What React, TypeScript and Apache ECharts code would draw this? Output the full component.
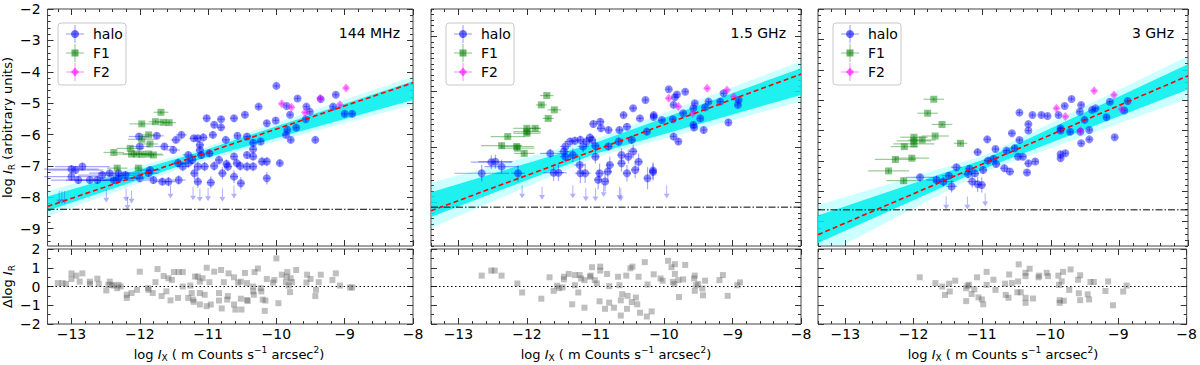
import React, { useEffect, useRef } from "react";
import * as echarts from "echarts";

const FONT = "DejaVu Sans, sans-serif";
const MINUS = "\u2212";

// ---------- ticks ----------
const xMajorTicks = [-13, -12, -11, -10, -9, -8];
const yMajorTicks144 = [-9, -8, -7, -6, -5, -4, -3, -2];
const yMajorTicks15 = [-10, -8, -6, -4];
const yMajorTicks3 = [-9, -8, -7, -6, -5, -4, -3, -2];
const resMajorTicks = [-2, -1, 0, 1, 2];

// ---------- 144 MHz ----------
const halo144 = [
  [-10.0, -4.45, 0.04, 0.08], [-9.69, -4.85, 0.04, 0.08], [-9.13, -4.73, 0.04, 0.08], [-9.35, -4.87, 0.04, 0.08],
  [-9.56, -5.11, 0.04, 0.08], [-10.26, -5.11, 0.04, 0.08], [-9.85, -5.09, 0.04, 0.08], [-9.17, -5.11, 0.04, 0.08],
  [-9.0, -5.34, 0.04, 0.08], [-8.89, -5.34, 0.04, 0.08], [-10.62, -5.48, 0.05, 0.1], [-10.46, -5.37, 0.05, 0.1],
  [-11.02, -5.48, 0.05, 0.1], [-10.81, -5.51, 0.05, 0.1], [-10.91, -5.69, 0.05, 0.1], [-10.81, -5.77, 0.05, 0.1],
  [-10.14, -5.64, 0.04, 0.1], [-10.01, -5.55, 0.04, 0.1], [-9.8, -5.37, 0.04, 0.08], [-9.71, -5.78, 0.04, 0.08],
  [-9.84, -5.85, 0.04, 0.08], [-9.86, -6.01, 0.04, 0.08], [-9.79, -6.17, 0.04, 0.1], [-9.43, -6.17, 0.04, 0.1],
  [-9.57, -5.51, 0.04, 0.08], [-9.51, -5.27, 0.04, 0.08], [-11.75, -6.04, 0.1, 0.1], [-11.39, -6.01, 0.08, 0.1],
  [-11.47, -6.17, 0.08, 0.1], [-11.21, -6.12, 0.06, 0.1], [-11.15, -6.12, 0.06, 0.1], [-11.07, -6.09, 0.06, 0.1],
  [-10.93, -6.01, 0.06, 0.1], [-10.74, -6.17, 0.06, 0.1], [-10.57, -6.04, 0.05, 0.1], [-10.43, -6.06, 0.05, 0.1],
  [-10.34, -6.26, 0.05, 0.12], [-10.23, -6.22, 0.05, 0.1], [-11.12, -6.33, 0.06, 0.12], [-11.12, -6.49, 0.06, 0.12],
  [-11.64, -6.38, 0.15, 0.1], [-11.51, -6.49, 0.1, 0.1], [-12.0, -6.38, 0.15, 0.1], [-12.01, -6.06, 0.15, 0.1],
  [-10.62, -6.7, 0.05, 0.12], [-10.73, -6.94, 0.05, 0.15], [-10.43, -6.65, 0.05, 0.12], [-10.34, -6.47, 0.05, 0.12],
  [-10.34, -6.7, 0.05, 0.12], [-10.21, -6.86, 0.05, 0.15], [-10.14, -6.86, 0.05, 0.15], [-9.95, -6.91, 0.04, 0.1],
  [-10.34, -7.02, 0.05, 0.15], [-10.58, -6.91, 0.05, 0.15], [-10.53, -7.0, 0.05, 0.15], [-10.43, -7.02, 0.05, 0.15],
  [-10.84, -6.81, 0.06, 0.15], [-10.71, -7.02, 0.06, 0.15], [-10.98, -6.6, 0.06, 0.12], [-11.29, -6.65, 0.08, 0.12],
  [-11.1, -6.65, 0.06, 0.12], [-11.44, -6.91, 0.08, 0.15], [-11.29, -6.91, 0.08, 0.15], [-11.15, -7.02, 0.06, 0.15],
  [-11.05, -7.02, 0.06, 0.15], [-11.23, -6.81, 0.06, 0.15], [-11.37, -7.02, 0.08, 0.15], [-11.2, -7.23, 0.06, 0.2],
  [-10.79, -7.23, 0.06, 0.2], [-10.62, -7.34, 0.06, 0.2], [-10.96, -7.53, 0.06, 0.2], [-11.15, -7.5, 0.06, 0.2],
  [-10.52, -7.55, 0.05, 0.2], [-10.14, -7.39, 0.05, 0.2], [-11.43, -7.45, 0.1, 0.15], [-11.58, -7.5, 0.1, 0.15],
  [-11.67, -7.5, 0.12, 0.12], [-11.8, -7.45, 0.15, 0.12], [-11.87, -7.23, 0.15, 0.12], [-12.0, -7.39, 0.2, 0.12],
  [-12.38, -7.45, 0.3, 0.12], [-12.44, -7.23, 0.3, 0.12], [-12.55, -7.29, 0.35, 0.12], [-12.62, -7.45, 0.35, 0.12],
  [-12.73, -7.45, 0.35, 0.12], [-12.84, -7.02, 0.4, 0.12], [-12.94, -7.13, 0.4, 0.12], [-13.0, -7.1, 0.4, 0.12],
  [-13.0, -7.34, 0.4, 0.12], [-12.9, -7.45, 0.4, 0.12], [-12.31, -7.39, 0.3, 0.12], [-12.31, -7.23, 0.3, 0.12],
  [-12.21, -7.29, 0.25, 0.12], [-11.85, -7.13, 0.15, 0.12], [-10.91, -7.0, 0.06, 0.15],
];
const f1_144 = [
  [-11.69, -5.29, 0.11, 0.06], [-11.97, -5.66, 0.18, 0.06], [-11.77, -5.59, 0.1, 0.06], [-11.66, -5.61, 0.1, 0.06],
  [-11.57, -5.62, 0.1, 0.06], [-11.87, -6.01, 0.1, 0.06], [-11.97, -6.15, 0.2, 0.06], [-11.85, -6.3, 0.12, 0.06],
  [-12.38, -6.57, 0.15, 0.06], [-12.14, -6.44, 0.2, 0.06], [-12.12, -6.62, 0.22, 0.06], [-12.05, -6.62, 0.2, 0.06],
  [-11.97, -6.63, 0.2, 0.06], [-11.87, -6.62, 0.2, 0.06], [-11.8, -6.65, 0.15, 0.06], [-12.33, -7.07, 0.15, 0.08],
  [-12.02, -7.07, 0.06, 0.08],
];
const f2_144 = [
  [-9.92, -5.02, 0.03, 0.06], [-9.78, -5.13, 0.03, 0.06], [-9.58, -5.3, 0.03, 0.06],
  [-9.36, -4.84, 0.03, 0.06], [-9.07, -5.05, 0.03, 0.06], [-8.98, -4.52, 0.03, 0.06],
];
const lim144 = [
  [-13.18, -7.8], [-13.14, -7.8], [-13.1, -7.8], [-12.49, -7.75], [-12.2, -7.72], [-12.12, -7.78], [-12.18, -7.98],
  [-11.55, -7.62], [-11.22, -7.68], [-11.12, -7.72], [-11.0, -7.7], [-10.79, -7.72], [-10.62, -7.62],
];
const res144 = [
  [-13.2, 0.18], [-13.13, 0.18], [-13.08, 0.14], [-13.0, 0.7], [-13.0, 0.4], [-12.93, 0.58], [-12.84, 0.7], [-12.88, 0.26],
  [-12.73, 0.26], [-12.73, 0.14], [-12.62, 0.42], [-12.6, 0.14], [-12.49, -0.21], [-12.46, 0.09], [-12.44, 0.26],
  [-12.41, 0.09], [-12.38, 0.05], [-12.33, -0.09], [-12.31, 0.09], [-12.28, 0.0], [-12.19, -0.44], [-12.19, -0.61],
  [-12.12, -0.35], [-12.04, -0.18], [-12.0, 0.79], [-11.88, -0.09], [-11.87, -0.18], [-11.81, -0.35], [-11.77, 0.23],
  [-11.74, 0.93], [-11.68, -0.51], [-11.65, 0.56], [-11.61, -0.26], [-11.58, 0.44], [-11.55, -0.74], [-11.53, 0.35],
  [-11.5, 0.77], [-11.44, -0.61], [-11.43, 0.77], [-11.37, 0.77], [-11.37, 0.0], [-11.29, -0.61], [-11.26, 0.05],
  [-11.24, -0.35], [-11.22, -0.7], [-11.21, -0.82], [-11.19, 0.53], [-11.15, 0.53], [-11.12, -0.96], [-11.12, 0.26],
  [-11.12, -0.35], [-11.08, 0.44], [-11.05, -0.44], [-11.02, 1.0], [-11.02, -1.05], [-10.98, 0.23], [-10.96, -0.96],
  [-10.91, 0.79], [-10.84, -0.35], [-10.81, 0.88], [-10.84, -0.75], [-10.8, -1.17], [-10.77, 0.23], [-10.72, -0.7],
  [-10.71, -0.51], [-10.7, 0.7], [-10.62, 0.49], [-10.62, -0.96], [-10.6, -1.23], [-10.56, 0.21], [-10.52, 0.26],
  [-10.52, -0.65], [-10.51, -1.23], [-10.46, 0.72], [-10.43, -0.72], [-10.43, 0.18], [-10.42, -0.77], [-10.34, 0.0],
  [-10.34, -0.26], [-10.33, -0.44], [-10.32, 0.77], [-10.27, 0.96], [-10.23, -0.09], [-10.22, -0.26], [-10.2, -0.7],
  [-10.17, -1.3], [-10.16, -0.75], [-10.14, 0.4], [-10.05, 0.21], [-10.03, 0.35], [-10.0, 1.5], [-9.97, -0.89],
  [-9.92, 0.63], [-9.86, 0.23], [-9.85, 0.53], [-9.84, 0.77], [-9.82, 0.05], [-9.8, -0.3], [-9.79, 0.44], [-9.77, 0.23],
  [-9.71, 0.88], [-9.56, 0.21], [-9.55, 0.63], [-9.5, 0.4], [-9.43, -0.51], [-9.42, -0.18], [-9.38, 0.23], [-9.35, 0.63],
  [-9.18, 0.35], [-9.13, 0.7], [-9.07, 0.05], [-8.92, -0.05], [-8.89, -0.05],
];
const fit144 = [[-13.35, -8.29], [-8, -4.35]];
const hline144 = -8.38;
const bandX144 = [-13.35, -11.2, -8];
const coreLo144 = [-8.43, -6.84, -4.9];
const coreHi144 = [-7.97, -6.6, -4.3];
const outerLo144 = [-8.6, -6.92, -5.05];
const outerHi144 = [-7.8, -6.52, -4.15];

// ---------- 1.5 GHz ----------
const halo15 = [
  [-9.93, -5.91, 0.04, 0.1], [-9.81, -6.1, 0.04, 0.1], [-9.69, -6.0, 0.04, 0.1], [-10.27, -6.3, 0.04, 0.1],
  [-9.84, -6.2, 0.04, 0.1], [-9.86, -6.48, 0.04, 0.1], [-10.45, -6.6, 0.05, 0.1], [-10.59, -6.85, 0.05, 0.1],
  [-10.35, -6.97, 0.05, 0.1], [-10.15, -6.85, 0.05, 0.1], [-10.15, -6.92, 0.05, 0.1], [-10.03, -7.03, 0.05, 0.1],
  [-9.87, -7.0, 0.04, 0.1], [-9.72, -6.78, 0.04, 0.1], [-9.57, -6.6, 0.04, 0.1], [-9.55, -6.42, 0.04, 0.1],
  [-9.4, -6.57, 0.04, 0.1], [-9.35, -6.36, 0.04, 0.1], [-9.18, -6.36, 0.04, 0.1], [-9.13, -6.06, 0.04, 0.1],
  [-8.91, -6.3, 0.04, 0.1], [-8.92, -6.48, 0.04, 0.1], [-9.42, -7.39, 0.04, 0.12], [-9.57, -7.21, 0.04, 0.12],
  [-9.56, -7.3, 0.04, 0.12], [-9.86, -7.63, 0.04, 0.12], [-9.79, -7.81, 0.04, 0.12], [-9.06, -7.12, 0.04, 0.12],
  [-9.47, -6.97, 0.04, 0.1], [-11.03, -7.17, 0.06, 0.12], [-10.93, -7.09, 0.06, 0.12], [-10.92, -7.33, 0.06, 0.12],
  [-10.81, -7.39, 0.06, 0.12], [-10.65, -7.39, 0.06, 0.12], [-10.54, -7.27, 0.06, 0.12], [-10.47, -7.75, 0.06, 0.15],
  [-10.25, -7.45, 0.05, 0.12], [-10.66, -7.81, 0.06, 0.15], [-10.81, -7.99, 0.06, 0.15], [-11.08, -7.66, 0.06, 0.15],
  [-11.05, -7.75, 0.06, 0.15], [-11.13, -7.81, 0.08, 0.15], [-11.22, -7.75, 0.08, 0.15], [-11.3, -7.78, 0.08, 0.15],
  [-11.37, -7.81, 0.08, 0.15], [-11.44, -7.99, 0.08, 0.2], [-11.46, -8.17, 0.08, 0.2], [-11.44, -8.36, 0.08, 0.2],
  [-11.33, -8.3, 0.08, 0.25], [-11.18, -7.99, 0.08, 0.2], [-11.0, -7.97, 0.06, 0.2], [-11.0, -8.36, 0.06, 0.25],
  [-10.62, -8.3, 0.06, 0.25], [-10.52, -8.36, 0.06, 0.25], [-10.37, -8.54, 0.06, 0.3], [-10.45, -8.17, 0.06, 0.25],
  [-10.62, -8.6, 0.06, 0.3], [-10.79, -8.66, 0.06, 0.3], [-10.94, -8.96, 0.06, 0.35], [-10.82, -8.9, 0.06, 0.35],
  [-10.96, -9.2, 0.06, 0.35], [-10.86, -9.26, 0.06, 0.35], [-10.54, -8.96, 0.06, 0.3], [-10.42, -8.84, 0.06, 0.3],
  [-10.16, -8.86, 0.05, 0.3], [-10.16, -8.92, 0.05, 0.3], [-10.24, -9.14, 0.05, 0.4], [-11.66, -8.24, 0.15, 0.15],
  [-11.61, -8.94, 0.15, 0.3], [-11.54, -8.94, 0.12, 0.3], [-11.23, -8.66, 0.08, 0.3], [-11.22, -8.96, 0.08, 0.35],
  [-11.15, -8.96, 0.08, 0.35], [-12.66, -8.96, 0.4, 0.3], [-12.52, -8.56, 0.3, 0.25], [-12.46, -8.54, 0.25, 0.25],
  [-12.37, -8.72, 0.25, 0.25], [-12.13, -8.96, 0.1, 0.3],
];
const f1_15 = [
  [-11.71, -6.14, 0.1, 0.06], [-11.79, -6.48, 0.08, 0.06], [-11.6, -6.66, 0.1, 0.06], [-11.69, -6.97, 0.08, 0.06],
  [-12.0, -7.33, 0.2, 0.08], [-12.0, -7.45, 0.2, 0.08], [-12.0, -7.51, 0.2, 0.08], [-11.88, -7.33, 0.08, 0.08],
  [-12.28, -7.63, 0.25, 0.08], [-12.37, -7.96, 0.3, 0.1], [-12.15, -7.99, 0.25, 0.1], [-12.14, -8.05, 0.25, 0.1],
  [-12.04, -8.24, 0.15, 0.1],
];
const f2_15 = [
  [-9.93, -6.24, 0.03, 0.06], [-9.79, -6.54, 0.03, 0.06], [-9.37, -5.88, 0.03, 0.06],
  [-9.08, -5.94, 0.03, 0.06], [-8.98, -6.18, 0.03, 0.06], [-9.58, -6.78, 0.03, 0.06],
];
const lim15 = [
  [-12.07, -9.4], [-11.78, -9.45], [-11.33, -9.4], [-11.14, -9.5], [-11.0, -9.5], [-10.88, -9.35],
  [-10.65, -9.45], [-10.63, -9.5], [-9.96, -9.4],
];
const res15 = [
  [-12.66, 0.58], [-12.52, 0.85], [-12.47, 0.85], [-12.37, 0.58], [-12.14, 0.16], [-12.07, -0.32], [-11.79, -0.65],
  [-11.67, 0.49], [-11.61, -0.23], [-11.56, 0.04], [-11.53, -0.09], [-11.48, -0.05], [-11.46, 0.38], [-11.46, 0.52],
  [-11.39, 0.67], [-11.34, -0.95], [-11.3, 0.61], [-11.3, 0.07], [-11.25, -0.32], [-11.23, 0.61], [-11.21, 0.43],
  [-11.16, 0.34], [-11.16, -1.13], [-11.08, 0.52], [-11.07, 0.58], [-11.05, 1.03], [-11.01, 0.34], [-10.98, 0.16],
  [-10.93, 1.06], [-10.93, 0.85], [-10.94, -0.79], [-10.86, -1.19], [-10.83, 0.67], [-10.8, 0.02], [-10.8, -0.86],
  [-10.73, -1.13], [-10.67, 0.52], [-10.65, 0.07], [-10.63, -0.74], [-10.61, -0.41], [-10.63, -1.55], [-10.55, 0.58],
  [-10.54, -1.19], [-10.53, -0.5], [-10.49, 0.97], [-10.47, -0.83], [-10.46, 1.06], [-10.41, -0.59], [-10.39, -0.95],
  [-10.37, 0.52], [-10.35, -1.4], [-10.28, 1.3], [-10.25, -1.6], [-10.24, 0.11], [-10.18, -1.33], [-10.15, 0.65],
  [-10.05, 0.43], [-10.02, 0.31], [-9.94, 1.37], [-9.89, 1.03], [-9.87, 0.25], [-9.85, 0.13], [-9.84, 1.19],
  [-9.84, 0.67], [-9.79, 0.34], [-9.78, -0.56], [-9.72, 0.38], [-9.69, 1.15], [-9.55, 0.58], [-9.56, 0.43],
  [-9.55, -0.23], [-9.53, 0.07], [-9.5, 0.13], [-9.44, -0.11], [-9.43, -0.47], [-9.4, 0.31], [-9.19, 0.34],
  [-9.14, 0.61], [-9.07, -0.5], [-8.93, 0.07], [-8.89, 0.22],
];
const fit15 = [[-13.4, -10.32], [-8, -5.36]];
const hline15 = -10.19;
const bandX15 = [-13.4, -11.0, -8];
const coreLo15 = [-10.55, -8.25, -6.12];
const coreHi15 = [-9.65, -7.85, -5.15];
const outerLo15 = [-10.95, -8.38, -6.36];
const outerHi15 = [-9.3, -7.72, -4.9];

// ---------- 3 GHz ----------
const halo3 = [
  [-9.7, -4.96, 0.04, 0.08], [-9.8, -5.19, 0.04, 0.08], [-9.56, -5.16, 0.04, 0.08], [-9.58, -5.38, 0.04, 0.08],
  [-10.14, -5.49, 0.04, 0.08], [-10.05, -5.52, 0.04, 0.08], [-9.89, -5.49, 0.04, 0.08], [-10.46, -5.41, 0.04, 0.08],
  [-10.27, -5.49, 0.04, 0.08], [-9.4, -5.32, 0.04, 0.08], [-9.35, -5.27, 0.04, 0.08], [-9.14, -5.05, 0.04, 0.08],
  [-8.88, -5.03, 0.04, 0.08], [-8.93, -5.34, 0.04, 0.08], [-9.19, -5.56, 0.04, 0.08], [-9.51, -5.65, 0.04, 0.08],
  [-9.86, -5.93, 0.04, 0.08], [-9.86, -6.0, 0.04, 0.08], [-9.72, -6.04, 0.04, 0.08], [-9.57, -6.04, 0.04, 0.08],
  [-9.56, -6.42, 0.04, 0.08], [-9.44, -5.98, 0.04, 0.08], [-9.44, -6.29, 0.04, 0.08], [-9.07, -6.22, 0.04, 0.08],
  [-10.33, -5.79, 0.04, 0.08], [-10.33, -6.0, 0.04, 0.08], [-10.57, -6.09, 0.05, 0.08], [-10.46, -6.31, 0.05, 0.08],
  [-10.93, -6.29, 0.05, 0.1], [-10.81, -6.61, 0.05, 0.1], [-10.53, -6.58, 0.05, 0.1], [-10.65, -6.66, 0.05, 0.1],
  [-10.48, -6.86, 0.05, 0.1], [-10.41, -6.86, 0.05, 0.1], [-10.33, -7.08, 0.05, 0.1], [-10.23, -7.02, 0.05, 0.1],
  [-10.35, -7.38, 0.05, 0.1], [-9.86, -6.78, 0.04, 0.1], [-9.79, -6.75, 0.04, 0.1], [-9.86, -6.91, 0.04, 0.1],
  [-11.07, -6.71, 0.06, 0.1], [-10.92, -6.99, 0.06, 0.1], [-10.8, -7.1, 0.06, 0.1], [-10.84, -6.93, 0.06, 0.1],
  [-10.68, -7.24, 0.06, 0.12], [-10.6, -7.35, 0.06, 0.12], [-10.99, -7.3, 0.06, 0.12], [-11.11, -7.41, 0.06, 0.12],
  [-11.19, -7.26, 0.06, 0.12], [-11.38, -7.21, 0.08, 0.12], [-11.49, -7.49, 0.1, 0.12], [-11.57, -7.68, 0.15, 0.15],
  [-11.67, -7.63, 0.15, 0.15], [-11.45, -7.84, 0.08, 0.2], [-11.21, -7.43, 0.08, 0.15], [-11.15, -7.68, 0.08, 0.2],
  [-11.07, -7.77, 0.06, 0.25], [-11.01, -7.79, 0.06, 0.25], [-11.91, -7.54, 0.2, 0.12],
];
const f1_3 = [
  [-11.71, -4.97, 0.15, 0.06], [-11.8, -5.43, 0.15, 0.06], [-11.59, -5.8, 0.15, 0.06], [-11.69, -6.18, 0.2, 0.06],
  [-12.0, -6.22, 0.2, 0.06], [-12.0, -6.34, 0.25, 0.06], [-12.0, -6.44, 0.3, 0.06], [-11.88, -6.31, 0.2, 0.06],
  [-12.14, -6.53, 0.2, 0.06], [-11.32, -6.42, 0.1, 0.06], [-12.27, -6.95, 0.3, 0.08], [-12.03, -6.91, 0.25, 0.08],
  [-12.37, -7.33, 0.3, 0.08], [-12.15, -7.65, 0.25, 0.1],
];
const f2_3 = [
  [-9.37, -4.69, 0.03, 0.06], [-9.08, -4.83, 0.03, 0.06], [-9.92, -5.27, 0.03, 0.06],
  [-9.79, -5.54, 0.03, 0.06], [-9.57, -6.0, 0.03, 0.06], [-8.97, -5.3, 0.03, 0.06],
];
const lim3 = [[-11.53, -8.17], [-11.22, -8.17], [-10.96, -8.06]];
const res3 = [
  [-11.91, 0.49], [-11.68, 0.18], [-11.58, 0.0], [-11.54, -0.45], [-11.48, 0.15], [-11.47, -0.27], [-11.39, 0.31],
  [-11.23, -0.09], [-11.23, -0.78], [-11.21, 0.04], [-11.19, 0.09], [-11.15, -0.4], [-11.11, -0.15], [-11.07, 0.49],
  [-11.05, -0.58], [-11.0, -0.69], [-10.98, -0.95], [-10.93, 0.09], [-10.93, 0.78], [-10.83, 0.36], [-10.8, -0.18],
  [-10.66, 0.15], [-10.65, -0.45], [-10.61, -0.6], [-10.6, 0.64], [-10.56, 0.18], [-10.48, -0.31], [-10.47, 0.27],
  [-10.46, 1.18], [-10.43, -0.31], [-10.36, 0.73], [-10.36, 0.55], [-10.36, -0.6], [-10.36, -0.87], [-10.3, 0.95],
  [-10.25, -0.64], [-10.17, 0.49], [-10.16, 0.58], [-10.05, 0.73], [-10.03, 0.55], [-9.88, 0.58], [-9.87, 0.09],
  [-9.86, -0.73], [-9.86, -0.87], [-9.83, 0.27], [-9.81, 0.78], [-9.8, -0.76], [-9.72, -0.18], [-9.7, 0.91],
  [-9.59, 0.36], [-9.58, -0.36], [-9.56, 0.6], [-9.56, -0.73], [-9.45, -0.42], [-9.43, -0.69], [-9.41, 0.24],
  [-9.36, 0.24], [-9.19, -0.24], [-9.15, 0.27], [-9.08, -1.0], [-8.93, -0.27], [-8.88, 0.05],
];
const fit3 = [[-13.4, -9.43], [-8, -4.2]];
const hline3 = -8.61;
const bandX3 = [-13.4, -11.0, -8];
const coreLo3 = [-9.7, -7.27, -4.65];
const coreHi3 = [-8.8, -6.97, -3.82];
const outerLo3 = [-10.2, -7.38, -4.95];
const outerHi3 = [-8.45, -6.85, -3.55];

// ---------- styling ----------
const BLUE = "rgba(0,0,255,0.58)";
const BLUE_ERR = "rgba(0,0,255,0.35)";
const GREEN = "rgba(0,128,0,0.6)";
const GREEN_ERR = "rgba(0,128,0,0.4)";
const MAGENTA = "rgba(255,0,255,0.6)";
const MAGENTA_ERR = "rgba(255,0,255,0.4)";
const GREY = "rgba(95,95,95,0.5)";
const TICK = "#333";

function stepValues(a: number, b: number, step: number) {
  const out: number[] = [];
  for (let i = 0; a + i * step <= b + 1e-9; i++) out.push(+(a + i * step).toFixed(4));
  return out;
}
const fmt = (v: number) => (v < 0 ? MINUS + Math.abs(v) : String(v));

const PANELS = [
  {
    label: "144 MHz", left: 45, width: 368, xMin: -13.35, yMin: -9.55, yMax: -2,
    yMajor: yMajorTicks144, yMinor: stepValues(-9.4, -2, 0.2), showY: true,
    halo: halo144, f1: f1_144, f2: f2_144, lim: lim144, res: res144, fit: fit144, hline: hline144,
    bandX: bandX144, core: [coreLo144, coreHi144], outer: [outerLo144, outerHi144], labelRight: 400, legendX: 58,
  },
  {
    label: "1.5 GHz", left: 431, width: 370, xMin: -13.4, yMin: -11.6, yMax: -3,
    yMajor: yMajorTicks15, yMinor: stepValues(-11.6, -3, 0.2), showY: false,
    halo: halo15, f1: f1_15, f2: f2_15, lim: lim15, res: res15, fit: fit15, hline: hline15,
    bandX: bandX15, core: [coreLo15, coreHi15], outer: [outerLo15, outerHi15], labelRight: 786, legendX: 446,
  },
  {
    label: "3 GHz", left: 818, width: 370, xMin: -13.4, yMin: -9.8, yMax: -2,
    yMajor: yMajorTicks3, yMinor: stepValues(-9.8, -2, 0.2), showY: false,
    halo: halo3, f1: f1_3, f2: f2_3, lim: lim3, res: res3, fit: fit3, hline: hline3,
    bandX: bandX3, core: [coreLo3, coreHi3], outer: [outerLo3, outerHi3], labelRight: 1174, legendX: 833,
  },
];

const labelStyle = { fontSize: 14, fontFamily: FONT, color: "#000" };

const richBase = {
  n: { fontSize: 13, fontFamily: FONT, lineHeight: 17, fill: "#000", color: "#000" },
  i: { fontSize: 13, fontFamily: FONT, fontStyle: "italic", lineHeight: 17, fill: "#000", color: "#000" },
  s: { fontSize: 9, fontFamily: FONT, verticalAlign: "bottom", fill: "#000", color: "#000" },
  p: { fontSize: 9, fontFamily: FONT, verticalAlign: "top", fill: "#000", color: "#000" },
};

function xAxes(g: number, min: number, labels: boolean) {
  const base = {
    gridIndex: g, type: "value", min, max: -8,
    axisLine: { show: false, onZero: false }, splitLine: { show: false },
  };
  const minor = stepValues(-13.4, -8, 0.2);
  return [
    {
      ...base, position: "bottom",
      axisTick: { show: true, inside: true, length: 6, customValues: xMajorTicks, lineStyle: { color: TICK, width: 1 } },
      axisLabel: labels
        ? { show: true, customValues: xMajorTicks, formatter: fmt, margin: 3, ...labelStyle }
        : { show: false },
    },
    { ...base, position: "bottom", axisTick: { show: true, inside: true, length: 3, customValues: minor, lineStyle: { color: TICK } }, axisLabel: { show: false } },
    { ...base, position: "top", axisTick: { show: true, inside: true, length: 6, customValues: xMajorTicks, lineStyle: { color: TICK } }, axisLabel: { show: false } },
    { ...base, position: "top", axisTick: { show: true, inside: true, length: 3, customValues: minor, lineStyle: { color: TICK } }, axisLabel: { show: false } },
  ];
}

function yAxes(g: number, min: number, max: number, major: number[], minor: number[], labels: boolean, title?: string) {
  const base = {
    gridIndex: g, type: "value", min, max,
    axisLine: { show: false, onZero: false }, splitLine: { show: false },
  };
  const nameOpts = title
    ? { name: title, nameLocation: "middle", nameRotate: 90, nameGap: 27, nameTextStyle: { rich: richBase, fontSize: 13, fontFamily: FONT, color: "#000" } }
    : {};
  return [
    {
      ...base, ...nameOpts, position: "left",
      axisTick: { show: true, inside: true, length: 6, customValues: major, lineStyle: { color: TICK } },
      axisLabel: labels ? { show: true, customValues: major, formatter: fmt, margin: 7, ...labelStyle } : { show: false },
    },
    { ...base, position: "left", axisTick: { show: true, inside: true, length: 3, customValues: minor, lineStyle: { color: TICK } }, axisLabel: { show: false } },
    { ...base, position: "right", axisTick: { show: true, inside: true, length: 6, customValues: major, lineStyle: { color: TICK } }, axisLabel: { show: false } },
    { ...base, position: "right", axisTick: { show: true, inside: true, length: 3, customValues: minor, lineStyle: { color: TICK } }, axisLabel: { show: false } },
  ];
}

function errRender(color: string) {
  return (params: any, api: any) => {
    const x = api.value(0), y = api.value(1), xe = api.value(2), ye = api.value(3);
    const a = api.coord([x - xe, y]), b = api.coord([x + xe, y]);
    const c = api.coord([x, y - ye]), d = api.coord([x, y + ye]);
    return {
      type: "group",
      children: [
        { type: "line", shape: { x1: a[0], y1: a[1], x2: b[0], y2: b[1] }, style: { stroke: color, lineWidth: 1.2 } },
        { type: "line", shape: { x1: c[0], y1: c[1], x2: d[0], y2: d[1] }, style: { stroke: color, lineWidth: 1.2 } },
      ],
    };
  };
}

function bandRender(xs: number[], lo: number[], hi: number[], fill: string) {
  return (params: any, api: any) => {
    const pts: number[][] = [];
    xs.forEach((x, i) => pts.push(api.coord([x, hi[i]])));
    for (let i = xs.length - 1; i >= 0; i--) pts.push(api.coord([xs[i], lo[i]]));
    return { type: "polygon", shape: { points: pts }, style: { fill } };
  };
}

const ARROW = "path://M2.5,0 L3.5,0 L3.5,9 L6,9 L3,14 L0,9 L2.5,9 Z";

function legend(bx: number) {
  const cx = bx + 17;
  const rows = [
    { y: 34, c: BLUE, e: BLUE_ERR, t: "halo", k: "circle" },
    { y: 53, c: GREEN, e: GREEN_ERR, t: "F1", k: "rect" },
    { y: 72, c: MAGENTA, e: MAGENTA_ERR, t: "F2", k: "diamond" },
  ];
  const els: any[] = [
    { type: "rect", z: 100, shape: { x: bx, y: 23, width: 68, height: 62, r: 3 }, style: { fill: "#fff", stroke: "#c8c8c8", lineWidth: 1 } },
  ];
  rows.forEach((r) => {
    els.push({ type: "line", z: 101, shape: { x1: cx - 9, y1: r.y, x2: cx + 9, y2: r.y }, style: { stroke: r.e, lineWidth: 1.2 } });
    els.push({ type: "line", z: 101, shape: { x1: cx, y1: r.y - 9, x2: cx, y2: r.y + 9 }, style: { stroke: r.e, lineWidth: 1.2 } });
    if (r.k === "circle") els.push({ type: "circle", z: 102, shape: { cx, cy: r.y, r: 4 }, style: { fill: r.c } });
    else if (r.k === "rect") els.push({ type: "rect", z: 102, shape: { x: cx - 3.5, y: r.y - 3.5, width: 7, height: 7 }, style: { fill: r.c } });
    else els.push({ type: "polygon", z: 102, shape: { points: [[cx, r.y - 4.5], [cx + 4, r.y], [cx, r.y + 4.5], [cx - 4, r.y]] }, style: { fill: r.c } });
    els.push({ type: "text", z: 102, x: bx + 35, y: r.y, style: { text: r.t, fontSize: 14, fontFamily: FONT, fill: "#000", align: "left", verticalAlign: "middle" } });
  });
  return els;
}

function buildOption() {
  const grid: any[] = [];
  const xAxis: any[] = [];
  const yAxis: any[] = [];
  const series: any[] = [];
  const graphic: any[] = [];

  PANELS.forEach((P, p) => {
    const gt = 2 * p, gb = 2 * p + 1;
    grid.push({ left: P.left, top: 9, width: P.width, height: 237, show: true, borderColor: "#444", borderWidth: 1, backgroundColor: "#fff" });
    grid.push({ left: P.left, top: 249, width: P.width, height: 75, show: true, borderColor: "#444", borderWidth: 1, backgroundColor: "#fff" });
    xAxis.push(...xAxes(gt, P.xMin, false));
    xAxis.push(...xAxes(gb, P.xMin, true));
    yAxis.push(...yAxes(gt, P.yMin, P.yMax, P.yMajor, P.yMinor, P.showY,
      p === 0 ? "{n|log }{i|I}{s|R}{n| (arbitrary units)}" : undefined));
    yAxis.push(...yAxes(gb, -2, 2, resMajorTicks, stepValues(-2, 2, 0.5), P.showY,
      p === 0 ? "{n|\u0394log }{i|I}{s|R}" : undefined));
    const ti = { xAxisIndex: gt * 4, yAxisIndex: gt * 4 };
    const bi = { xAxisIndex: gb * 4, yAxisIndex: gb * 4 };

    series.push({ type: "custom", ...ti, clip: true, z: 1, silent: true, data: [[P.bandX[0], P.outer[0][0]]], renderItem: bandRender(P.bandX, P.outer[0], P.outer[1], "rgba(0,255,255,0.2)") });
    series.push({ type: "custom", ...ti, clip: true, z: 1, silent: true, data: [[P.bandX[0], P.core[0][0]]], renderItem: bandRender(P.bandX, P.core[0], P.core[1], "rgba(0,238,238,0.85)") });
    series.push({ type: "line", ...ti, z: 2, data: [[P.xMin, P.hline], [-8, P.hline]], symbol: "none", lineStyle: { color: "#000", width: 1, type: [7, 2, 1.5, 2] } });

    series.push({ type: "custom", ...ti, z: 3, data: P.halo, encode: { x: 0, y: 1 }, renderItem: errRender(BLUE_ERR) });
    series.push({ type: "custom", ...ti, z: 3, data: P.f1, encode: { x: 0, y: 1 }, renderItem: errRender(GREEN_ERR) });
    series.push({ type: "custom", ...ti, z: 3, data: P.f2, encode: { x: 0, y: 1 }, renderItem: errRender(MAGENTA_ERR) });
    series.push({ type: "scatter", ...ti, z: 4, data: P.lim, symbol: ARROW, symbolSize: [6, 13], symbolOffset: [0, 6.5], itemStyle: { color: "rgba(60,60,255,0.5)" } });
    series.push({ type: "scatter", ...ti, z: 4, data: P.halo.map((d) => [d[0], d[1]]), symbol: "circle", symbolSize: 8, itemStyle: { color: BLUE } });
    series.push({ type: "scatter", ...ti, z: 4, data: P.f1.map((d) => [d[0], d[1]]), symbol: "rect", symbolSize: 7, itemStyle: { color: GREEN } });
    series.push({ type: "scatter", ...ti, z: 4, data: P.f2.map((d) => [d[0], d[1]]), symbol: "diamond", symbolSize: [8, 9], itemStyle: { color: MAGENTA } });
    series.push({ type: "line", ...ti, z: 6, data: P.fit, symbol: "none", lineStyle: { color: "#ff0000", width: 1.6, type: [5, 3] } });

    series.push({ type: "line", ...bi, z: 2, data: [[P.xMin, 0], [-8, 0]], symbol: "none", lineStyle: { color: "#000", width: 1.2, type: [1.5, 2.5] } });
    series.push({ type: "scatter", ...bi, z: 3, data: P.res, symbol: "rect", symbolSize: 6, itemStyle: { color: GREY } });

    graphic.push(...legend(P.legendX));
    graphic.push({ type: "text", z: 100, x: P.labelRight, y: 33, style: { text: P.label, fontSize: 14, fontFamily: FONT, fill: "#000", align: "right", verticalAlign: "middle" } });
    graphic.push({
      type: "text", z: 100, x: P.left + P.width / 2, y: 354,
      style: {
        text: "{n|log }{i|I}{s|X}{n| ( m Counts s}{p|" + MINUS + "1}{n| arcsec}{p|2}{n|)}",
        rich: richBase, align: "center", verticalAlign: "middle",
      },
    });
  });

  return { animation: false, backgroundColor: "#fff", grid, xAxis, yAxis, series, graphic };
}

export default function App() {
  const ref = useRef<HTMLDivElement>(null);
  useEffect(() => {
    document.body.style.margin = "0";
    const chart = echarts.init(ref.current as HTMLDivElement, null, { renderer: "svg" });
    chart.setOption(buildOption() as any);
    return () => chart.dispose();
  }, []);
  return <div ref={ref} style={{ width: 1200, height: 365 }} />;
}
